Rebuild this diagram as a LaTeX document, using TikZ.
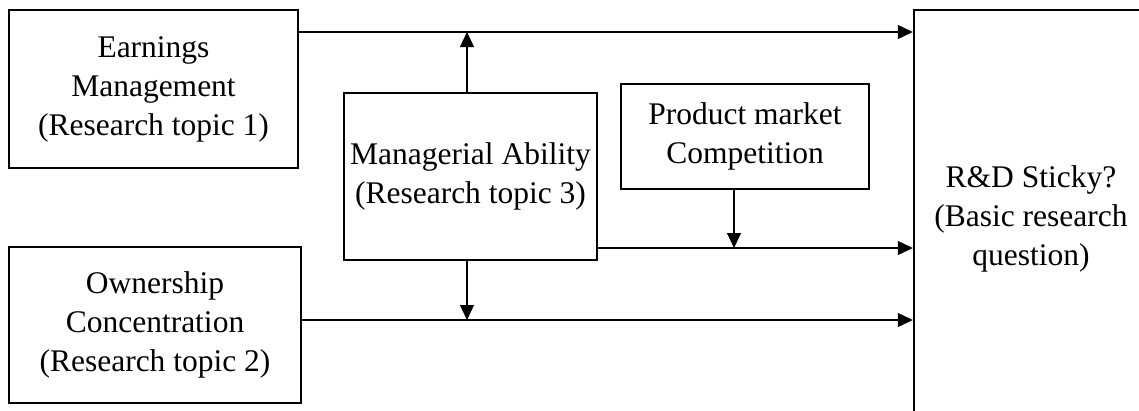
\documentclass[tikz,border=0pt]{standalone}
\usepackage{fontspec}
\setmainfont{Liberation Serif}
\usetikzlibrary{arrows.meta}

\tikzset{
  topicbox/.style={draw,line width=2.4pt,inner sep=0pt,align=center,
    font=\fontsize{31.5}{39}\selectfont,
    execute at begin node={\rule{0pt}{35pt}}},
  arr/.style={line width=1.2pt,-{Triangle[length=15pt,width=14pt]}}
}

\begin{document}
\begin{tikzpicture}[x=1pt,y=-1pt]
  \useasboundingbox (0,0) rectangle (1139,410);
  \node[topicbox,minimum width=289pt,minimum height=158pt] (earn) at (153.5,89) {Earnings\\Management\\(Research topic 1)};
  \node[topicbox,minimum width=292pt,minimum height=156pt] (own) at (155,325) {Ownership\\Concentration\\(Research topic 2)};
  \node[topicbox,minimum width=253pt,minimum height=167pt] (mgr) at (470.5,176.5) {Managerial Ability\\(Research topic 3)};
  \node[topicbox,minimum width=248pt,minimum height=105pt] (prod) at (745,136.5) {Product market\\Competition};
  \node[topicbox,minimum width=234pt,minimum height=418pt] (rd) at (1031,219) {R\&D Sticky?\\(Basic research\\question)};
  \coordinate (topline) at (0,32);  %earnings line
  \coordinate (midline) at (0,248); %managerial line
  \coordinate (lowline) at (0,320); %ownership line
  \draw[arr] (earn.east |- topline) -- (rd.west |- topline);
  \draw[arr] (own.east |- lowline) -- (rd.west |- lowline);
  \draw[arr] (mgr.east |- midline) -- (rd.west |- midline);
  \draw[arr] ([xshift=-3.5pt]mgr.north) -- ([xshift=-3.5pt]mgr.north |- topline);
  \draw[arr] ([xshift=-3.5pt]mgr.south) -- ([xshift=-3.5pt]mgr.south |- lowline);
  \draw[arr] ([xshift=-11pt]prod.south) -- ([xshift=-11pt]prod.south |- midline);
\end{tikzpicture}
\end{document}
